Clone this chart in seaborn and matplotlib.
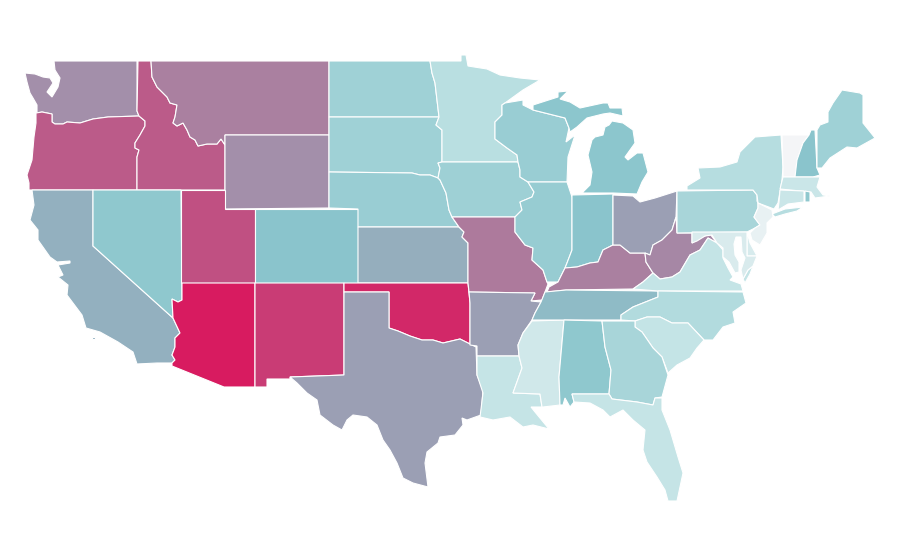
import seaborn as sns
import matplotlib.pyplot as plt
from matplotlib.colors import Normalize

# state values, 0-100
states = ["WA","OR","CA","ID","NV","MT","WY","UT","AZ","CO","NM","ND","SD","NE","KS","OK","TX",
          "MN","IA","MO","AR","LA","WI","IL","MS","MI","IN","KY","TN","AL","OH","WV","VA","NC",
          "SC","GA","FL","PA","NY","VT","NH","ME","MA","CT","RI","NJ","DE","MD"]
values = [66,81,56,81,48,70,66,84,100,50,90,40,40,43,57,96,61,
          28,41,72,61,22,43,44,17,49,50,70,53,48,61,68,23,31,
          23,36,22,36,29,0,50,40,20,20,48,6,14,13]

# outlines, in pixels
shapes = {
"WA": [[(54,61),(137,61),(137,111),(139,116),(108,117),(93,119),(80,123),(67,122),(63,124),(55,124),(52,122),(52,114),
        (42,112),(37,113),(37,105),(33,98),(30,93),(27,82),(25,73),(35,74),(43,77),(50,78),(53,83),(47,92),(52,97),(58,87),(60,78),(55,70)]],
"OR": [[(36,113),(42,112),(52,114),(52,122),(55,124),(63,124),(67,122),(80,123),(93,119),(108,117),(139,116),(145,121),(145,126),
        (140,135),(135,143),(135,148),(139,150),(137,157),(137,190),(29,190),(29,183),(27,175),(32,160),(34,137),(36,123)]],
"CA": [[(32,190),(93,190),(93,246),(173,318),(180,333),(175,338),(175,347),(172,355),(175,360),(172,363),(157,363),(137,364),(133,352),
        (118,342),(100,332),(86,328),(82,315),(67,295),(68,285),(58,277),(63,275),(58,265),(70,263),(70,261),(57,262),(50,257),
        (38,240),(38,230),(30,220),(34,205)],
       [(92,337),(95,337),(95,339),(92,339)]],
"ID": [[(138,61),(151,61),(152,77),(157,87),(167,97),(170,103),(177,105),(175,117),(173,123),(177,126),(183,123),(187,130),(190,137),
        (195,140),(198,146),(207,144),(217,144),(221,139),(225,145),(225,190),(137,190),(137,157),(139,150),(135,148),(135,143),
        (140,135),(145,126),(145,121),(139,116),(137,111)]],
"NV": [[(93,190),(181,190),(182,300),(178,302),(172,299),(173,318),(93,246)]],
"MT": [[(151,61),(329,61),(329,135),(225,135),(225,145),(221,139),(217,144),(207,144),(198,146),(195,140),(190,137),(187,130),
        (183,123),(177,126),(173,123),(175,117),(177,105),(170,103),(167,97),(157,87),(152,77)]],
"WY": [[(225,135),(329,135),(329,208),(225,209)]],
"UT": [[(181,190),(225,190),(225,209),(255,209),(255,283),(181,283)]],
"AZ": [[(182,283),(255,283),(255,387),(224,387),(172,366),(172,363),(175,360),(172,355),(175,347),(175,338),(180,333),(173,318),(172,299),(178,302),(182,300)]],
"CO": [[(255,209),(358,209),(358,283),(255,283)]],
"NM": [[(255,283),(344,283),(344,375),(290,377),(290,379),(267,379),(267,387),(255,387)]],
"ND": [[(329,61),(430,61),(432,73),(435,83),(437,100),(439,117),(329,117)]],
"SD": [[(329,117),(439,117),(436,125),(442,130),(442,162),(438,163),(440,168),(438,178),(430,175),(420,175),(412,173),(329,172)]],
"NE": [[(329,172),(412,173),(420,175),(430,175),(438,178),(440,180),(446,193),(449,210),(452,217),(459,227),(358,227),(358,209),(329,208)]],
"KS": [[(358,227),(459,227),(464,232),(462,237),(468,243),(468,283),(358,283)]],
"OK": [[(344,283),(468,283),(470,303),(470,344),(460,339),(443,343),(433,340),(422,340),(410,336),(398,331),(389,328),(389,292),(344,292)]],
"TX": [[(344,292),(389,292),(389,328),(398,331),(410,336),(422,340),(433,340),(443,343),(460,339),(470,344),(476,347),(477,375),(483,390),
        (481,415),(467,420),(462,418),(463,425),(455,435),(440,437),(438,443),(427,452),(425,463),(428,487),(413,483),(403,478),(397,463),
        (390,450),(383,440),(377,425),(367,417),(353,415),(347,420),(342,430),(333,425),(320,415),(317,400),(307,393),(297,383),(290,377),(344,375)]],
"MN": [[(430,61),(461,61),(461,55),(466,55),(468,66),(487,69),(500,75),(520,78),(540,80),(523,90),(505,103),(502,105),(502,115),(495,122),
        (495,139),(507,148),(517,155),(518,162),(442,162),(442,130),(436,125),(439,117),(437,100),(435,83),(432,73)]],
"IA": [[(442,162),(518,162),(520,170),(520,177),(528,182),(534,192),(532,197),(520,202),(522,210),(515,217),(452,217),(449,210),(446,193),(440,180),(438,178),(440,168),(438,163)]],
"MO": [[(452,217),(515,217),(515,232),(525,245),(533,248),(532,260),(543,270),(547,282),(548,284),(542,300),(531,301),(535,293),(469,292),(468,283),(468,243),(462,237),(464,232),(459,227)]],
"AR": [[(469,292),(535,293),(531,301),(541,302),(535,313),(532,320),(523,333),(518,345),(519,356),(477,356),(477,346),(470,345),(470,303)]],
"LA": [[(477,356),(519,356),(522,368),(513,393),(540,394),(542,407),(531,407),(535,412),(549,429),(533,425),(523,427),(510,417),(493,420),(480,417),(483,393),(477,375)]],
"WI": [[(502,105),(505,103),(523,100),(523,105),(533,110),(565,118),(569,128),(566,142),(575,135),(568,157),(567,182),(528,182),(520,177),(520,170),(518,162),(517,155),(507,148),(495,139),(495,122),(502,115)]],
"IL": [[(528,182),(567,182),(572,197),(572,250),(567,263),(565,268),(558,282),(547,282),(543,270),(532,260),(533,248),(525,245),(515,232),(515,217),(522,210),(520,202),(532,197),(534,192)]],
"MS": [[(532,321),(564,320),(559,377),(560,405),(543,407),(542,407),(540,394),(513,393),(522,368),(519,356),(518,345),(523,333)]],
"MI": [[(582,193),(613,193),(637,194),(642,182),(648,172),(643,153),(637,153),(628,160),(625,157),(635,143),(633,130),(623,123),(612,121),(609,125),(605,127),(603,135),(595,137),(592,140),(588,155),(592,172),(590,185)],
       [(533,105),(558,97),(558,92),(568,91),(560,99),(570,102),(580,108),(603,103),(608,103),(610,108),(622,108),(623,116),(610,113),(603,114),(587,118),(577,127),(570,132),(569,128),(565,118),(533,110)]],
"IN": [[(572,195),(613,194),(613,245),(603,250),(598,262),(590,263),(577,267),(565,268),(567,263),(572,250)]],
"KY": [[(613,245),(620,245),(630,253),(645,253),(646,262),(653,273),(643,282),(633,289),(566,290),(547,292),(549,287),(558,282),(565,268),(577,267),(590,263),(598,262),(603,250)]],
"TN": [[(545,292),(566,290),(658,291),(658,297),(633,307),(621,315),(621,320),(532,320),(535,313),(541,302)]],
"AL": [[(564,320),(602,321),(605,347),(611,370),(609,394),(572,394),(574,402),(570,407),(565,398),(563,405),(560,405),(559,377)]],
"OH": [[(613,195),(633,196),(640,202),(655,198),(677,191),(676,217),(672,230),(662,240),(653,245),(650,255),(645,253),(630,253),(620,245),(613,245)]],
"WV": [[(676,217),(677,233),(692,233),(692,243),(700,238),(710,234),(717,243),(708,238),(700,250),(690,255),(680,272),(672,277),(660,279),(653,273),(646,262),(645,253),(650,255),(653,245),(662,240),(672,230)]],
"VA": [[(633,289),(643,282),(653,273),(660,279),(672,277),(680,272),(690,255),(700,250),(708,238),(717,243),(723,250),(723,258),(728,268),(733,277),(730,280),(741,284),(743,291),(658,291)],
       [(743,279),(748,270),(753,266),(750,274),(745,283)]],
"NC": [[(658,291),(743,292),(746,303),(733,312),(735,323),(723,327),(713,340),(704,340),(688,323),(672,323),(660,317),(647,317),(635,321),(621,320),(621,315),(633,307),(658,297)]],
"SC": [[(635,321),(647,317),(660,317),(672,323),(688,323),(704,340),(697,348),(690,358),(677,365),(668,373),(662,357),(653,348),(642,332),(635,327)]],
"GA": [[(602,321),(635,321),(635,327),(642,332),(653,348),(662,357),(668,375),(662,397),(655,398),(653,405),(637,402),(612,399),(609,394),(611,370),(605,347)]],
"FL": [[(572,394),(609,394),(612,399),(637,402),(653,405),(655,398),(662,398),(662,410),(670,430),(678,457),(683,473),(677,501),(668,501),(665,490),(657,477),(647,462),(643,450),(645,430),(633,420),(623,410),(610,417),(603,410),(590,403),(574,402)]],
"PA": [[(677,191),(753,190),(757,195),(757,201),(758,203),(758,208),(754,217),(760,225),(755,228),(747,232),(677,233)]],
"NY": [[(687,190),(687,186),(700,178),(698,168),(720,167),(737,162),(740,152),(755,137),(781,135),(783,167),(782,180),(778,203),(774,209),(758,203),(757,195),(753,190)],
       [(772,214),(785,209),(803,207),(797,211),(785,214),(775,217)]],
"VT": [[(782,135),(809,135),(803,143),(797,160),(795,177),(783,177),(783,167)]],
"NH": [[(811,130),(815,130),(817,168),(820,175),(813,177),(795,177),(797,160),(803,143),(809,135)]],
"ME": [[(817,130),(820,125),(828,122),(828,112),(833,103),(842,90),(860,93),(863,95),(863,123),(875,138),(857,148),(847,147),(830,158),(822,168),(817,168)]],
"MA": [[(783,177),(820,177),(817,187),(823,195),(830,196),(815,198),(811,192),(780,189)]],
"CT": [[(780,190),(804,191),(804,202),(788,204),(778,210),(779,202)]],
"RI": [[(805,191),(810,192),(810,202),(805,202)]],
"NJ": [[(758,203),(772,210),(773,217),(767,223),(767,233),(760,245),(752,240),(750,233),(755,228),(760,225),(754,217),(758,208)]],
"DE": [[(747,232),(750,243),(757,256),(747,256)]],
"MD": [[(692,232),(747,232),(747,256),(757,256),(753,266),(748,270),(743,279),(741,270),(745,258),(742,252),(741,237),(736,237),(734,244),(735,255),(739,262),(739,272),(735,273),(729,262),(723,257),(723,248),(717,243),(712,235),(705,236),(697,241),(692,243)]],
}

sns.set_theme(style="white")
cmap = sns.blend_palette(["#f4f5f7", "#bfe2e4", "#8ac5cc", "#b17096", "#d81b60"], as_cmap=True)
norm = Normalize(0, 100)

fig, ax = plt.subplots(figsize=(9, 5.6), dpi=100)
fig.subplots_adjust(0, 0, 1, 1)

for state, value in zip(states, values):
    for ring in shapes[state]:
        xs, ys = zip(*ring)
        ax.fill(xs, ys, color=cmap(norm(value)), ec="white", lw=0.8)

ax.set_xlim(0, 900)
ax.set_ylim(560, 0)
ax.axis("off")

plt.savefig("out.png", dpi=100)
